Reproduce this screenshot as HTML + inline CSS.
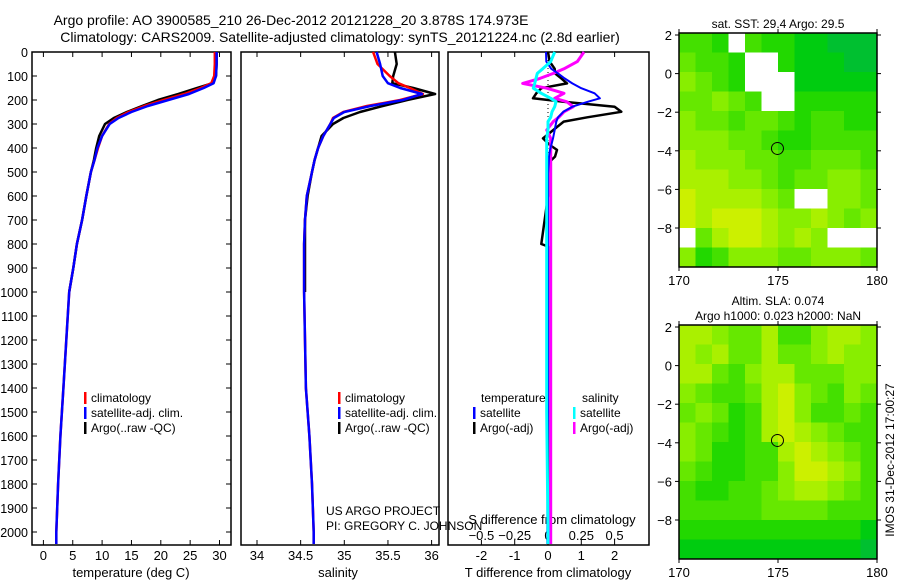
<!DOCTYPE html>
<html><head><meta charset="utf-8">
<style>
html,body{margin:0;padding:0;background:#fff;}
svg{display:block;font-family:"Liberation Sans",sans-serif;}
text{fill:#000;}
</style></head>
<body>
<svg id="chart" width="900" height="580" xmlns="http://www.w3.org/2000/svg">
<text x="291" y="25" font-size="14" text-anchor="middle">Argo profile: AO 3900585_210 26-Dec-2012 20121228_20 3.878S 174.973E</text>
<text x="340" y="42" font-size="14" text-anchor="middle">Climatology: CARS2009. Satellite-adjusted climatology: synTS_20121224.nc (2.8d earlier)</text>
<g id="g"></g>
</svg>
<script>
// ---- data ----
const depths = [0,50,100,130,150,175,200,225,250,275,300,350,400,450,500,600,700,800,900,1000,1200,1400,1600,1800,2000,2050];
const tempClim = [29.2,29.2,29.1,28.6,26.8,24.0,20.5,17.2,14.5,12.5,11.2,10.0,9.3,8.7,8.1,7.3,6.6,5.7,5.1,4.4,3.9,3.4,2.9,2.5,2.2,2.2];
const tempSat  = [29.5,29.5,29.4,29.0,27.3,24.8,21.3,17.8,15.0,12.8,11.3,10.0,9.2,8.7,8.1,7.3,6.6,5.7,5.1,4.4,3.9,3.4,2.9,2.5,2.2,2.2];
const argoDepths = [0,50,100,130,150,175,200,225,250,275,300,350,400,450,500,600,700,800,900,1000];
const tempArgo = [29.5,29.5,29.4,28.8,26.2,23.0,19.5,16.8,14.2,12.0,10.5,9.5,9.0,8.6,8.1,7.3,6.6,5.7,5.1,4.4];
const salClim = [35.33,35.38,35.52,35.62,35.75,35.9,35.64,35.26,34.99,34.87,34.84,34.76,34.70,34.66,34.63,34.57,34.55,34.54,34.54,34.54,34.55,34.56,34.60,34.63,34.65,34.65];
const salSat  = [35.37,35.41,35.44,35.5,35.64,35.89,35.67,35.3,35.0,34.88,34.84,34.76,34.70,34.66,34.63,34.57,34.55,34.54,34.54,34.54,34.55,34.56,34.60,34.63,34.65,34.65];
const salArgo = [35.58,35.6,35.56,35.55,35.79,36.04,35.72,35.44,35.18,34.99,34.87,34.74,34.70,34.66,34.63,34.58,34.55,34.55,34.55,34.55];
const dDepths = [0,40,70,89,110,131,151,172,193,207,228,249,272,290,325,360,388,408,436,464,506,600,800,810,1000,1500,2000,2050];
const dTsat  = [-0.06,-0.05,0.1,0.3,0.5,0.73,1.0,1.4,1.56,1.2,0.73,0.46,0.3,0.25,0.2,0.15,0.1,0.06,0.03,0.02,0.0,0.0,0.0,0.0,0.0,0.0,-0.02,-0.02];
const dTargo = [0,0.05,0.2,0.21,0.4,0.57,-0.2,-0.35,-0.45,0.47,2.0,2.2,1.18,0.47,0.16,-0.15,0.06,0.27,0.21,0.0,0.0,0.0,-0.2,0.0,0.0,0.0,0.0,0.0];
const dSargo = [0.27,0.22,0.12,0.04,-0.06,-0.19,-0.01,0.12,0.05,0.14,0.19,0.12,0.08,0.04,-0.01,0.02,0.02,0.02,0.02,0.02,0.02,0.02,0.02,0.02,0.02,0.02,0.02,0.02];
const dSsat  = [0.05,0.02,-0.04,-0.08,-0.09,-0.1,-0.11,-0.05,0.02,0.06,0.05,0.03,0.02,0.0,0.0,-0.01,-0.01,-0.01,-0.01,-0.01,-0.01,-0.01,-0.01,-0.01,-0.01,-0.01,0.0,0.0];
const depthTicks = [0,100,200,300,400,500,600,700,800,900,1000,1100,1200,1300,1400,1500,1600,1700,1800,1900,2000];
const tempTicks = [0,5,10,15,20,25,30];
const salTicks = [34,34.5,35,35.5,36];
const salTickLabels = ["34","34.5","35","35.5","36"];
const dTTicks = [-2,-1,0,1,2];
const dSTicks = [-0.5,-0.25,0,0.25,0.5];
const latTicks = [2,0,-2,-4,-6,-8];
const lonTicks = [170,175,180];
// map grids (12 cols x 12 rows, lat 2 -> -10, '.' = no data)
const sstGrid = [
"443.43322111","5443..322211","6543...22222","55654..33333","655455434433","666554334444",
"766655445554","777665455665","8777765..665","878887667656",".57887676...","634666556665"];
const slaGrid = [
"776557446776","767557556766","775467755566","654457865465","565347864454","654347876544",
"653344787654","543344688764","433445677654","444445555444","333333333332","222222222221"];

const NS="http://www.w3.org/2000/svg";
const g=document.getElementById('g');
function el(tag,attrs,parent){const e=document.createElementNS(NS,tag);for(const k in attrs)e.setAttribute(k,attrs[k]);(parent||g).appendChild(e);return e;}
function txt(x,y,s,size,anchor,parent){const t=el('text',{x:x,y:y,'font-size':size,'text-anchor':anchor||'middle'},parent);t.textContent=s;return t;}

const yTop=52, yScale=0.24;
const yD=d=>yTop+d*yScale;
const P1={x0:32,x1:231}, P2={x0:241,x1:439}, P3={x0:448,x1:649};
const xT=t=>43.4+t*5.87;
const xS=s=>257+(s-34)*87.3;
const xDT=t=>548+t*33.3;
const xDS=s=>548+s*133.2;
const yBot=545;

function panel(P,name){
  const r=el('rect',{x:P.x0,y:yTop,width:P.x1-P.x0,height:yBot-yTop,fill:'none',stroke:'#000','stroke-width':1.5});
  
  
}
panel(P1,'temperature-panel');panel(P2,'salinity-panel');panel(P3,'difference-panel');

depthTicks.forEach(d=>{
  const y=yD(d);
  el('line',{x1:P1.x0,y1:y,x2:P1.x0+5,y2:y,stroke:'#000'});
  el('line',{x1:P1.x1,y1:y,x2:P1.x1-5,y2:y,stroke:'#000'});
  const t=txt(28,y+5,String(d),12.5,'end');
  
  
});
function xticks(vals,labels,fx,ylab,size){
  vals.forEach((v,i)=>{
    const x=fx(v);
    el('line',{x1:x,y1:yTop,x2:x,y2:yTop+5,stroke:'#000'});
    el('line',{x1:x,y1:yBot,x2:x,y2:yBot-5,stroke:'#000'});
    const t=txt(x,ylab,labels[i],size||13);
    
    
  });
}
xticks(tempTicks,tempTicks.map(String),xT,560);
xticks(salTicks,salTickLabels,xS,560);
xticks(dTTicks,dTTicks.map(String),xDT,560);
dSTicks.forEach(v=>{const t=txt(xDS(v),540,String(v).replace('-','\u2212'),13);
  });

let t;
t=txt(131,577,'temperature (deg C)',13);
t=txt(338,577,'salinity',13);
t=txt(548,577,'T difference from climatology',13);
t=txt(552,524,'S difference from climatology',13);
t=txt(326,515,'US ARGO PROJECT',12,'start');
t=txt(326,530,'PI: GREGORY C. JOHNSON',12,'start');

el('line',{x1:xDT(0),y1:yTop,x2:xDT(0),y2:yBot,stroke:'#000','stroke-dasharray':'1,3'});

function line(xs,ds,fx,color,name,w){
  const pts=xs.map((v,i)=>fx(v).toFixed(1)+','+yD(ds[i]).toFixed(1)).join(' ');
  const p=el('polyline',{points:pts,fill:'none',stroke:color,'stroke-width':w||2.5,'stroke-linejoin':'round'});
  
  
}
line(tempArgo,argoDepths,xT,'#000','temp-argo-line');
line(tempClim,depths,xT,'#f00','temp-climatology-line');
line(tempSat,depths,xT,'#00f','temp-satellite-line');
line(salArgo,argoDepths,xS,'#000','sal-argo-line');
line(salClim,depths,xS,'#f00','sal-climatology-line');
line(salSat,depths,xS,'#00f','sal-satellite-line');
line(dTargo,dDepths,xDT,'#000','t-diff-argo-line');
line(dSargo,dDepths,xDS,'#f0f','s-diff-argo-line',3);
line(dTsat,dDepths,xDT,'#00f','t-diff-satellite-line',2);
line(dSsat,dDepths,xDS,'#0ff','s-diff-satellite-line',3);

function leg(x,y,color,label,name){
  el('rect',{x:x,y:y-10,width:2.5,height:12,fill:color});
  const tt=txt(x+7,y,label,12,'start');
  
  
}
leg(84,402,'#f00','climatology','legend-climatology');
leg(84,417,'#00f','satellite-adj. clim.','legend-satellite-adj');
leg(84,432,'#000','Argo(..raw -QC)','legend-argo');
leg(338,402,'#f00','climatology','legend-sal-climatology');
leg(338,417,'#00f','satellite-adj. clim.','legend-sal-satellite-adj');
leg(338,432,'#000','Argo(..raw -QC)','legend-sal-argo');
t=txt(481,402,'temperature',12,'start');
t=txt(582,402,'salinity',12,'start');
leg(473,417,'#00f','satellite','legend-t-satellite');
leg(473,432,'#000','Argo(-adj)','legend-t-argo');
leg(573,417,'#0ff','satellite','legend-s-satellite');
leg(573,432,'#f0f','Argo(-adj)','legend-s-argo');

const cmap=['#00b050','#00c030','#00cc10','#22d800','#44e000','#66e800','#88ee00','#aaf000','#ccf000','#e8f000'];
function drawMap(grid,top,name,titleLines){
  const x0=679,x1=877,y1=top+234;
  const lonX=lon=>x0+(lon-170)*(x1-x0)/10;
  const latY=lat=>top+2+(2-lat)*19.3;
  const grp=el('g',{});
  
  
  const rows=grid.length, cols=grid[0].length;
  const cw=(x1-x0)/cols, ch=(y1-top)/rows;
  grid.forEach((row,r)=>{for(let c=0;c<cols;c++){
    const ch_=row[c];
    const col= ch_==='.'?'#fff':cmap[+ch_];
    el('rect',{x:(x0+c*cw).toFixed(2),y:(top+r*ch).toFixed(2),width:(cw+0.5).toFixed(2),height:(ch+0.5).toFixed(2),fill:col},grp);
  }});
  el('rect',{x:x0,y:top,width:x1-x0,height:y1-top,fill:'none',stroke:'#000','stroke-width':1.5},grp);
  latTicks.forEach(l=>{const y=latY(l);
    el('line',{x1:x0-4,y1:y,x2:x0,y2:y,stroke:'#000'},grp);
    el('line',{x1:x1,y1:y,x2:x1+4,y2:y,stroke:'#000'},grp);
    txt(672,y+5,String(l).replace('-','\u2212'),13,'end',grp);});
  lonTicks.forEach(l=>{const x=lonX(l);
    el('line',{x1:x,y1:top-4,x2:x,y2:top,stroke:'#000'},grp);
    el('line',{x1:x,y1:y1,x2:x,y2:y1+4,stroke:'#000'},grp);
    txt(x,y1+18,String(l),13,'middle',grp);});
  el('circle',{cx:lonX(174.973),cy:latY(-3.878),r:6,fill:'none',stroke:'#000'},grp);
  titleLines.forEach((s,i)=>txt(778,top-(titleLines.length-i)*15+10,s,12,'middle',grp));
}
drawMap(sstGrid,33,'sst-map',['sat. SST: 29.4  Argo: 29.5']);
drawMap(slaGrid,325,'sla-map',['Altim. SLA: 0.074','Argo h1000: 0.023  h2000: NaN']);

t=txt(0,0,'IMOS 31-Dec-2012 17:00:27',12,'middle');
t.setAttribute('transform','translate(894,460) rotate(-90)');


</script>
</body></html>
